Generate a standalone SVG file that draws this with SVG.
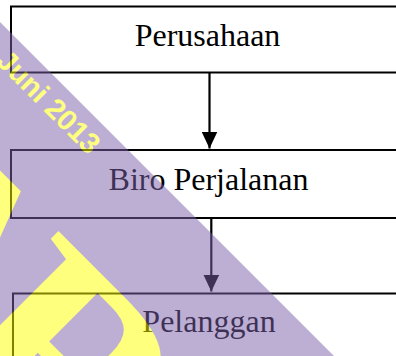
<svg xmlns="http://www.w3.org/2000/svg" width="396" height="356" viewBox="0 0 396 356">
<defs>
<style>
.box{fill:#fff;stroke:#000;stroke-width:2}
.lbl{font-family:"Liberation Serif","Times New Roman",serif;font-size:32px;fill:#000;text-anchor:middle}
.conn{stroke:#000;stroke-width:2.2;fill:none;marker-end:url(#ah)}
</style>
<marker id="ah" markerUnits="userSpaceOnUse" markerWidth="18" markerHeight="16" viewBox="0 0 18 16" refX="17" refY="8" orient="auto">
<path d="M0,0 L17,8 L0,16 z" fill="#000"/>
</marker>
</defs>
<rect width="396" height="356" fill="#fff"/>
<g id="perusahaan">
<rect class="box" x="11" y="6.5" width="420" height="66"/>
<text class="lbl" x="207.5" y="46">Perusahaan</text>
</g>
<g id="biro">
<rect class="box" x="11" y="150" width="420" height="68"/>
<text class="lbl" x="208.5" y="190">Biro Perjalanan</text>
</g>
<g id="pelanggan">
<rect class="box" x="13" y="293.5" width="420" height="100"/>
<text class="lbl" x="209" y="332">Pelanggan</text>
</g>
<g id="connectors">
<line class="conn" x1="209.5" y1="73" x2="209.5" y2="148.5"/>
<line class="conn" x1="211.3" y1="218" x2="211.3" y2="291.5"/>
</g>
<g id="watermark" opacity="0.5" transform="translate(0,22) rotate(45)">
<rect x="-300" y="0" width="1200" height="600" fill="#7D62AA"/>
<text x="25" y="32" font-family="Liberation Sans, Arial, sans-serif" font-weight="bold" font-size="29" fill="#FFFF00">Juni 2013</text>
<text x="4.5" y="303" font-family="Liberation Serif, Times New Roman, serif" font-weight="bold" font-size="300" fill="#FFFF00">A<tspan dx="-37">B</tspan></text>
</g>
</svg>
